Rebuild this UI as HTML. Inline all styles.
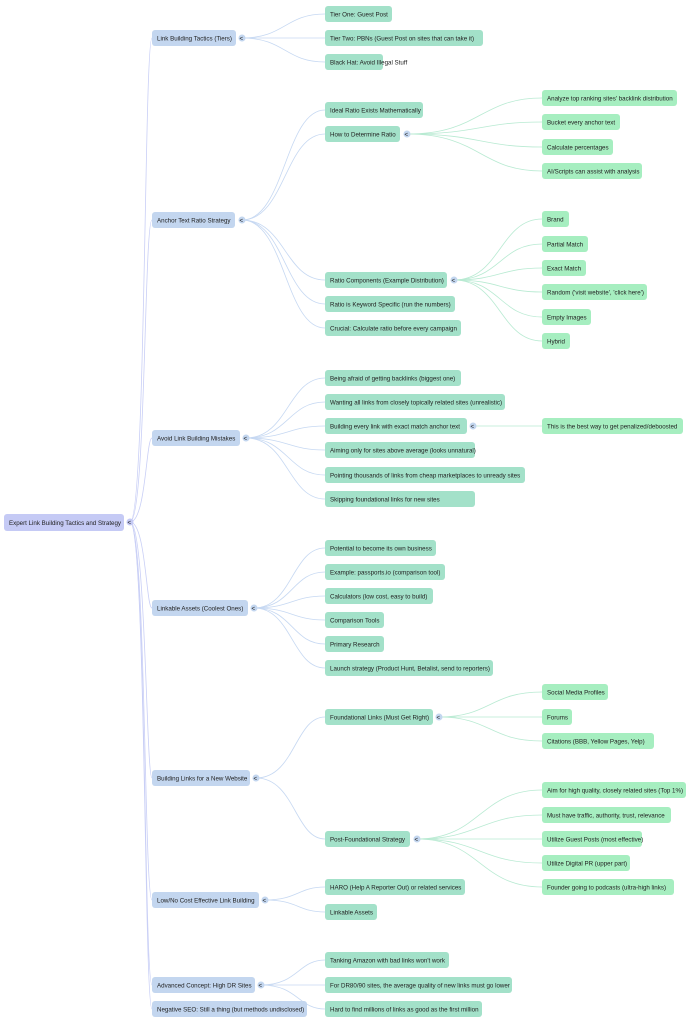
<!DOCTYPE html>
<html><head><meta charset="utf-8"><style>
html,body{margin:0;padding:0;background:#fff;width:700px;height:1024px;overflow:hidden}
text{font-family:"Liberation Sans",sans-serif;font-size:6.2px;fill:#222}
.a{fill:#c3d6ef}.b{fill:#a3e1c9}.c{fill:#a6eec0}
.l1{stroke:#c9cff6;fill:none;stroke-width:0.8}.l2{stroke:#c6d8f2;fill:none;stroke-width:0.8}.l3{stroke:#b8ead2;fill:none;stroke-width:0.8}
.t{fill:#c3d6ef}
</style></head><body>
<svg width="700" height="1024" viewBox="0 0 700 1024" xmlns="http://www.w3.org/2000/svg">
<g class="l1">
<path d="M130,522 C146,522 144,38 152,38"/>
<path d="M130,522 C146,522 144,220 152,220"/>
<path d="M130,522 C146,522 146,438 152,438"/>
<path d="M130,522 C146,522 146,608 152,608"/>
<path d="M130,522 C146,522 146,778 152,778"/>
<path d="M130,522 C146,522 144,900 152,900"/>
<path d="M130,522 C146,522 144,985 152,985"/>
<path d="M130,522 C146,522 144,1009 152,1009"/>
</g>
<g class="l2">
<path d="M242,38 C285,38 285,14 325,14"/><path d="M242,38 L325,38"/><path d="M242,38 C285,38 285,62 325,62"/>
<path d="M242,220 C285,220 285,110 325,110"/><path d="M242,220 C285,220 285,134 325,134"/><path d="M242,220 C285,220 285,280 325,280"/><path d="M242,220 C285,220 285,304 325,304"/><path d="M242,220 C285,220 285,328 325,328"/>
<path d="M246,438 C288,438 288,378 325,378"/><path d="M246,438 C288,438 288,402 325,402"/><path d="M246,438 C288,438 288,426 325,426"/><path d="M246,438 C288,438 288,450 325,450"/><path d="M246,438 C288,438 288,475 325,475"/><path d="M246,438 C288,438 288,499 325,499"/>
<path d="M254,608 C292,608 292,548 325,548"/><path d="M254,608 C292,608 292,572 325,572"/><path d="M254,608 C292,608 292,596 325,596"/><path d="M254,608 C292,608 292,620 325,620"/><path d="M254,608 C292,608 292,644 325,644"/><path d="M254,608 C292,608 292,668 325,668"/>
<path d="M256,778 C295,778 295,717 325,717"/><path d="M256,778 C295,778 295,839 325,839"/>
<path d="M265,900 C298,900 298,887 325,887"/><path d="M265,900 C298,900 298,912 325,912"/>
<path d="M261,985 C298,985 298,960 325,960"/><path d="M261,985 L325,985"/><path d="M261,985 C298,985 298,1009 325,1009"/>
</g>
<g class="l3">
<path d="M407,134 C480,134 480,98 542,98"/><path d="M407,134 C480,134 480,122 542,122"/><path d="M407,134 C480,134 480,147 542,147"/><path d="M407,134 C480,134 480,171 542,171"/>
<path d="M454,280 C500,280 500,219 542,219"/><path d="M454,280 C500,280 500,244 542,244"/><path d="M454,280 C500,280 500,268 542,268"/><path d="M454,280 C500,280 500,292 542,292"/><path d="M454,280 C500,280 500,317 542,317"/><path d="M454,280 C500,280 500,341 542,341"/>
<path d="M473,426 L542,426"/>
<path d="M439,717 C490,717 490,692 542,692"/><path d="M439,717 L542,717"/><path d="M439,717 C490,717 490,741 542,741"/>
<path d="M417,839 C480,839 480,790 542,790"/><path d="M417,839 C480,839 480,815 542,815"/><path d="M417,839 L542,839"/><path d="M417,839 C480,839 480,863 542,863"/><path d="M417,839 C480,839 480,887 542,887"/>
</g>
<rect x="4" y="514" width="120" height="17" rx="3" fill="#c5caf5"/><text x="9" y="525">Expert Link Building Tactics and Strategy</text>
<circle cx="130" cy="522" r="3.5" fill="#c5caf5"/><text x="127.5" y="524.5">&lt;</text>
<g>
<rect class="a" x="152" y="30" width="84" height="16" rx="3"/><text x="157" y="40.5">Link Building Tactics (Tiers)</text>
<rect class="a" x="152" y="212" width="83" height="16" rx="3"/><text x="157" y="222.5">Anchor Text Ratio Strategy</text>
<rect class="a" x="152" y="430" width="88" height="16" rx="3"/><text x="157" y="440.5">Avoid Link Building Mistakes</text>
<rect class="a" x="152" y="600" width="96" height="16" rx="3"/><text x="157" y="610.5">Linkable Assets (Coolest Ones)</text>
<rect class="a" x="152" y="770" width="98" height="16" rx="3"/><text x="157" y="780.5">Building Links for a New Website</text>
<rect class="a" x="152" y="892" width="107" height="16" rx="3"/><text x="157" y="902.5">Low/No Cost Effective Link Building</text>
<rect class="a" x="152" y="977" width="103" height="16" rx="3"/><text x="157" y="987.5">Advanced Concept: High DR Sites</text>
<rect class="a" x="152" y="1001" width="155" height="16" rx="3"/><text x="157" y="1011.5">Negative SEO: Still a thing (but methods undisclosed)</text>
</g>
<g>
<circle class="t" cx="242" cy="38" r="3.5"/><text x="239.5" y="40.5">&lt;</text>
<circle class="t" cx="242" cy="220" r="3.5"/><text x="239.5" y="222.5">&lt;</text>
<circle class="t" cx="246" cy="438" r="3.5"/><text x="243.5" y="440.5">&lt;</text>
<circle class="t" cx="254" cy="608" r="3.5"/><text x="251.5" y="610.5">&lt;</text>
<circle class="t" cx="256" cy="778" r="3.5"/><text x="253.5" y="780.5">&lt;</text>
<circle class="t" cx="265" cy="900" r="3.5"/><text x="262.5" y="902.5">&lt;</text>
<circle class="t" cx="261" cy="985" r="3.5"/><text x="258.5" y="987.5">&lt;</text>
<circle class="t" cx="407" cy="134" r="3.5"/><text x="404.5" y="136.5">&lt;</text>
<circle class="t" cx="454" cy="280" r="3.5"/><text x="451.5" y="282.5">&lt;</text>
<circle class="t" cx="473" cy="426" r="3.5"/><text x="470.5" y="428.5">&lt;</text>
<circle class="t" cx="439" cy="717" r="3.5"/><text x="436.5" y="719.5">&lt;</text>
<circle class="t" cx="417" cy="839" r="3.5"/><text x="414.5" y="841.5">&lt;</text>
</g>
<g>
<rect class="b" x="325" y="6" width="67" height="16" rx="3"/><text x="330" y="16.5">Tier One: Guest Post</text>
<rect class="b" x="325" y="30" width="158" height="16" rx="3"/><text x="330" y="40.5">Tier Two: PBNs (Guest Post on sites that can take it)</text>
<rect class="b" x="325" y="54" width="58" height="16" rx="3"/><text x="330" y="64.5">Black Hat: Avoid Illegal Stuff</text>
<rect class="b" x="325" y="102" width="98" height="16" rx="3"/><text x="330" y="112.5">Ideal Ratio Exists Mathematically</text>
<rect class="b" x="325" y="126" width="75" height="16" rx="3"/><text x="330" y="136.5">How to Determine Ratio</text>
<rect class="b" x="325" y="272" width="122" height="16" rx="3"/><text x="330" y="282.5">Ratio Components (Example Distribution)</text>
<rect class="b" x="325" y="296" width="130" height="16" rx="3"/><text x="330" y="306.5">Ratio is Keyword Specific (run the numbers)</text>
<rect class="b" x="325" y="320" width="136" height="16" rx="3"/><text x="330" y="330.5">Crucial: Calculate ratio before every campaign</text>
<rect class="b" x="325" y="370" width="136" height="16" rx="3"/><text x="330" y="380.5">Being afraid of getting backlinks (biggest one)</text>
<rect class="b" x="325" y="394" width="180" height="16" rx="3"/><text x="330" y="404.5">Wanting all links from closely topically related sites (unrealistic)</text>
<rect class="b" x="325" y="418" width="142" height="16" rx="3"/><text x="330" y="428.5">Building every link with exact match anchor text</text>
<rect class="b" x="325" y="442" width="150" height="16" rx="3"/><text x="330" y="452.5">Aiming only for sites above average (looks unnatural)</text>
<rect class="b" x="325" y="467" width="200" height="16" rx="3"/><text x="330" y="477.5">Pointing thousands of links from cheap marketplaces to unready sites</text>
<rect class="b" x="325" y="491" width="150" height="16" rx="3"/><text x="330" y="501.5">Skipping foundational links for new sites</text>
<rect class="b" x="325" y="540" width="111" height="16" rx="3"/><text x="330" y="550.5">Potential to become its own business</text>
<rect class="b" x="325" y="564" width="120" height="16" rx="3"/><text x="330" y="574.5">Example: passports.io (comparison tool)</text>
<rect class="b" x="325" y="588" width="108" height="16" rx="3"/><text x="330" y="598.5">Calculators (low cost, easy to build)</text>
<rect class="b" x="325" y="612" width="59" height="16" rx="3"/><text x="330" y="622.5">Comparison Tools</text>
<rect class="b" x="325" y="636" width="59" height="16" rx="3"/><text x="330" y="646.5">Primary Research</text>
<rect class="b" x="325" y="660" width="168" height="16" rx="3"/><text x="330" y="670.5">Launch strategy (Product Hunt, Betalist, send to reporters)</text>
<rect class="b" x="325" y="709" width="108" height="16" rx="3"/><text x="330" y="719.5">Foundational Links (Must Get Right)</text>
<rect class="b" x="325" y="831" width="85" height="16" rx="3"/><text x="330" y="841.5">Post-Foundational Strategy</text>
<rect class="b" x="325" y="879" width="140" height="16" rx="3"/><text x="330" y="889.5">HARO (Help A Reporter Out) or related services</text>
<rect class="b" x="325" y="904" width="52" height="16" rx="3"/><text x="330" y="914.5">Linkable Assets</text>
<rect class="b" x="325" y="952" width="124" height="16" rx="3"/><text x="330" y="962.5">Tanking Amazon with bad links won't work</text>
<rect class="b" x="325" y="977" width="187" height="16" rx="3"/><text x="330" y="987.5">For DR80/90 sites, the average quality of new links must go lower</text>
<rect class="b" x="325" y="1001" width="157" height="16" rx="3"/><text x="330" y="1011.5">Hard to find millions of links as good as the first million</text>
</g>
<g>
<rect class="c" x="542" y="90" width="135" height="16" rx="3"/><text x="547" y="100.5">Analyze top ranking sites' backlink distribution</text>
<rect class="c" x="542" y="114" width="78" height="16" rx="3"/><text x="547" y="124.5">Bucket every anchor text</text>
<rect class="c" x="542" y="139" width="71" height="16" rx="3"/><text x="547" y="149.5">Calculate percentages</text>
<rect class="c" x="542" y="163" width="100" height="16" rx="3"/><text x="547" y="173.5">AI/Scripts can assist with analysis</text>
<rect class="c" x="542" y="211" width="27" height="16" rx="3"/><text x="547" y="221.5">Brand</text>
<rect class="c" x="542" y="236" width="46" height="16" rx="3"/><text x="547" y="246.5">Partial Match</text>
<rect class="c" x="542" y="260" width="44" height="16" rx="3"/><text x="547" y="270.5">Exact Match</text>
<rect class="c" x="542" y="284" width="105" height="16" rx="3"/><text x="547" y="294.5">Random ('visit website', 'click here')</text>
<rect class="c" x="542" y="309" width="49" height="16" rx="3"/><text x="547" y="319.5">Empty Images</text>
<rect class="c" x="542" y="333" width="28" height="16" rx="3"/><text x="547" y="343.5">Hybrid</text>
<rect class="c" x="542" y="418" width="141" height="16" rx="3"/><text x="547" y="428.5">This is the best way to get penalized/deboosted</text>
<rect class="c" x="542" y="684" width="66" height="16" rx="3"/><text x="547" y="694.5">Social Media Profiles</text>
<rect class="c" x="542" y="709" width="30" height="16" rx="3"/><text x="547" y="719.5">Forums</text>
<rect class="c" x="542" y="733" width="112" height="16" rx="3"/><text x="547" y="743.5">Citations (BBB, Yellow Pages, Yelp)</text>
<rect class="c" x="542" y="782" width="144" height="16" rx="3"/><text x="547" y="792.5">Aim for high quality, closely related sites (Top 1%)</text>
<rect class="c" x="542" y="807" width="129" height="16" rx="3"/><text x="547" y="817.5">Must have traffic, authority, trust, relevance</text>
<rect class="c" x="542" y="831" width="100" height="16" rx="3"/><text x="547" y="841.5">Utilize Guest Posts (most effective)</text>
<rect class="c" x="542" y="855" width="88" height="16" rx="3"/><text x="547" y="865.5">Utilize Digital PR (upper part)</text>
<rect class="c" x="542" y="879" width="132" height="16" rx="3"/><text x="547" y="889.5">Founder going to podcasts (ultra-high links)</text>
</g>
</svg>
</body></html>
